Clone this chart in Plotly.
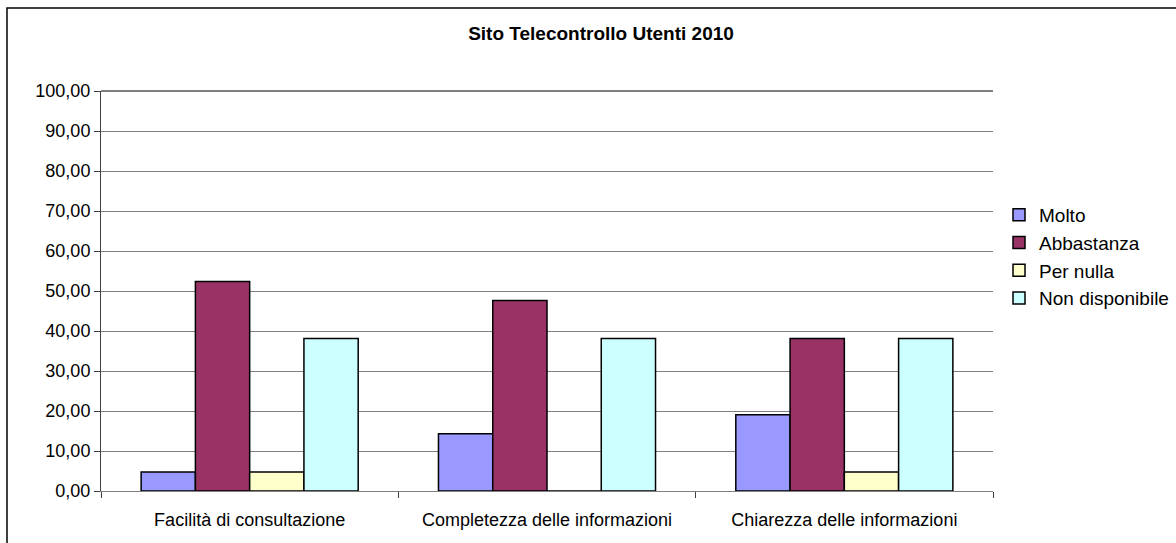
import plotly.graph_objects as go

categories = ["Facilità di consultazione", "Completezza delle informazioni", "Chiarezza delle informazioni"]
series_names = ["Molto", "Abbastanza", "Per nulla", "Non disponibile"]
molto = [4.76, 14.29, 19.05]
abbastanza = [52.38, 47.62, 38.10]
per_nulla = [4.76, 0.00, 4.76]
non_disponibile = [38.10, 38.10, 38.10]
y_ticks = [0, 10, 20, 30, 40, 50, 60, 70, 80, 90, 100]

colors = ["#9999FF", "#993366", "#FFFFCC", "#CCFFFF"]
values = [molto, abbastanza, per_nulla, non_disponibile]

W, H = 1176, 543
L, R, T, B = 101, 183, 91, 52
pw = W - L - R
ph = H - T - B

fig = go.Figure()
for name, vals, c in zip(series_names, values, colors):
    fig.add_trace(go.Bar(
        x=categories, y=vals, name=name,
        marker=dict(color=c, line=dict(color="#000000", width=1.5)),
    ))

fig.update_layout(
    width=W, height=H,
    margin=dict(l=L, r=R, t=T, b=B, autoexpand=False),
    paper_bgcolor="white", plot_bgcolor="white",
    barmode="group", bargap=0.27, bargroupgap=0,
    separators=",.",
    font=dict(family="Liberation Sans, Arial, sans-serif", size=18, color="#000000"),
    title=dict(text="<b>Sito Telecontrollo Utenti 2010</b>", x=(601 / W), xanchor="center",
               y=1 - 33 / H, yanchor="middle", font=dict(size=19)),
    legend=dict(x=(999 - L) / pw, xanchor="left", y=(491 - 196) / ph, yanchor="top",
                font=dict(size=19), tracegroupgap=0, itemwidth=30,
                bgcolor="rgba(0,0,0,0)"),
    showlegend=True,
    xaxis=dict(
        type="category", tickson="boundaries", ticks="outside", ticklen=6,
        tickcolor="#404040", showline=True, linecolor="#808080", linewidth=1,
        showgrid=False, tickfont=dict(size=18), fixedrange=True,
        ticklabelstandoff=12,
    ),
    yaxis=dict(
        range=[0, 100], tickvals=y_ticks, tickformat=".2f", ticks="outside",
        ticklen=6, tickcolor="#404040", showline=True, linecolor="#404040", linewidth=1,
        showgrid=True, gridcolor="#808080", gridwidth=1, zeroline=False,
        tickfont=dict(size=18), fixedrange=True,
    ),
    shapes=[
        dict(type="rect", xref="paper", yref="paper",
             x0=(7 - L) / pw, x1=(W + 20 - L) / pw,
             y0=-(B + 20) / ph, y1=(491 - 8) / ph,
             line=dict(color="#000000", width=1.5), fillcolor="rgba(0,0,0,0)", layer="below"),
        dict(type="line", xref="paper", yref="paper", x0=0, x1=1, y0=1, y1=1,
             line=dict(color="#000000", width=1)),
    ],
)

fig.write_html("out.html", config={"displayModeBar": False, "staticPlot": True},
               post_script="document.body.style.margin='0';document.body.style.overflow='hidden';")
